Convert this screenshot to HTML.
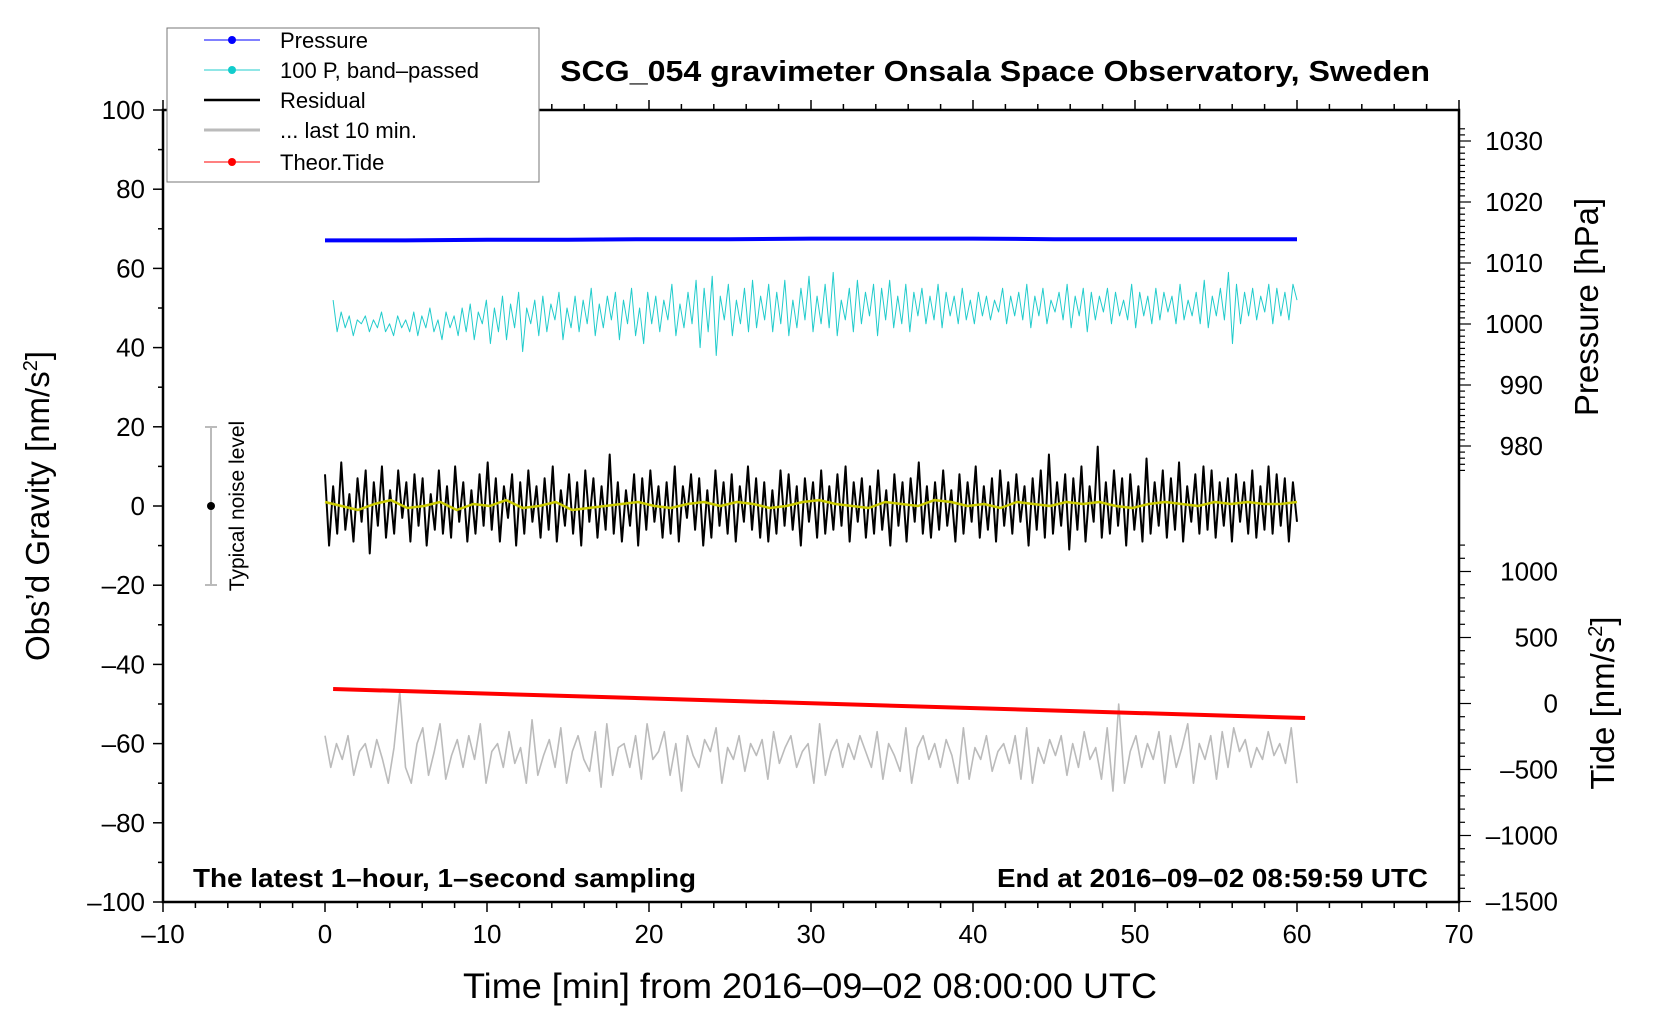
<!DOCTYPE html>
<html><head><meta charset="utf-8">
<style>
html,body{margin:0;padding:0;background:#fff;}
svg{display:block;font-family:"Liberation Sans",sans-serif;}
</style></head>
<body>
<svg id="chart" width="1660" height="1020" viewBox="0 0 1660 1020" xmlns="http://www.w3.org/2000/svg">
<rect width="1660" height="1020" fill="#fff"/>
<g id="plot"></g>
<g id="axes"></g>
<g>
  <rect x="167" y="28" width="372" height="154" fill="#fff" stroke="#777" stroke-width="1"/>
  <line x1="204" y1="40" x2="260" y2="40" stroke="#00f" stroke-width="1"/><circle cx="232" cy="40" r="4" fill="#00f"/>
  <text x="280" y="48" font-size="22">Pressure</text>
  <line x1="204" y1="70" x2="260" y2="70" stroke="#2cc" stroke-width="1"/><circle cx="232" cy="70" r="4" fill="#1cc"/>
  <text x="280" y="78" font-size="22">100 P, band–passed</text>
  <line x1="204" y1="100" x2="260" y2="100" stroke="#000" stroke-width="2.5"/>
  <text x="280" y="108" font-size="22">Residual</text>
  <line x1="204" y1="130" x2="260" y2="130" stroke="#bbb" stroke-width="3"/>
  <text x="280" y="138" font-size="22">... last 10 min.</text>
  <line x1="204" y1="162" x2="260" y2="162" stroke="#f00" stroke-width="1"/><circle cx="232" cy="162" r="4" fill="#f00"/>
  <text x="280" y="170" font-size="22">Theor.Tide</text>
</g>
<text x="560" y="81" font-size="29" font-weight="bold" textLength="870" lengthAdjust="spacingAndGlyphs">SCG_054 gravimeter Onsala Space Observatory, Sweden</text>
<text x="193" y="887" font-size="26" font-weight="bold" textLength="503" lengthAdjust="spacingAndGlyphs">The latest 1–hour, 1–second sampling</text>
<text x="997" y="887" font-size="26" font-weight="bold" textLength="431" lengthAdjust="spacingAndGlyphs">End at 2016–09–02 08:59:59 UTC</text>
<text x="463" y="998" font-size="35" textLength="694" lengthAdjust="spacingAndGlyphs">Time [min] from 2016–09–02 08:00:00 UTC</text>
<text transform="translate(49,506) rotate(-90)" font-size="33" text-anchor="middle">Obs’d Gravity [nm/s<tspan font-size="20" dy="-12">2</tspan><tspan dy="12">]</tspan></text>
<text transform="translate(1598,307) rotate(-90)" font-size="33" text-anchor="middle">Pressure [hPa]</text>
<text transform="translate(1614,703) rotate(-90)" font-size="33" text-anchor="middle">Tide [nm/s<tspan font-size="20" dy="-12">2</tspan><tspan dy="12">]</tspan></text>
<g>
  <line x1="211" y1="427" x2="211" y2="585" stroke="#bbb" stroke-width="2"/>
  <line x1="205" y1="427" x2="217" y2="427" stroke="#bbb" stroke-width="2"/>
  <line x1="205" y1="585" x2="217" y2="585" stroke="#bbb" stroke-width="2"/>
  <circle cx="211" cy="506" r="4" fill="#000"/>
  <text transform="translate(244,506) rotate(-90)" font-size="21" text-anchor="middle">Typical noise level</text>
</g>
</svg>
<script>
const pressureT=[0,5,10,15,20,25,30,35,40,45,50,55,60];
const pressureV=[1013.7,1013.7,1013.8,1013.8,1013.9,1013.9,1014.0,1014.0,1014.0,1013.9,1013.9,1013.9,1013.9];
const residualV=[8,-10,5,-7,11,-6,3,-9,7,-4,9,-12,6,-5,10,-8,4,-7,9,-3,6,-9,8,-5,7,-10,3,-6,9,-7,5,-8,10,-4,6,-9,4,-7,8,-5,
11,-6,7,-9,5,-3,8,-10,6,-7,9,-4,5,-8,7,-6,10,-9,4,-5,8,-7,6,-10,9,-4,7,-8,5,-6,13,-7,6,-9,4,-5,8,-10,7,-6,
9,-4,5,-8,6,-7,10,-9,5,-3,8,-6,7,-10,4,-8,9,-5,6,-7,8,-9,5,-4,10,-6,7,-8,6,-9,4,-7,9,-5,8,-6,5,-10,7,-4,
6,-8,9,-7,5,-6,8,-5,10,-9,6,-4,7,-8,5,-7,9,-6,4,-10,8,-5,6,-9,7,-4,11,-7,5,-8,6,-6,9,-5,4,-9,8,-7,6,-4,
10,-8,5,-6,7,-9,9,-5,6,-7,8,-4,5,-10,7,-6,9,-8,13,-7,6,-5,8,-11,7,-6,10,-9,5,-4,15,-8,6,-7,9,-5,7,-10,8,-6,
5,-9,12,-7,6,-5,9,-8,7,-6,11,-9,5,-4,8,-7,10,-6,9,-8,6,-5,7,-9,8,-4,6,-7,9,-8,5,-6,10,-7,8,-5,7,-9,6,-4];
const bandV=[52,44,49,45,48,43,47,46,48,44,47,45,49,44,46,43,48,45,47,44,49,43,48,45,50,44,47,42,49,45,48,43,50,44,51,42,49,46,52,41,
50,44,53,42,51,45,54,39,50,46,52,43,53,44,51,47,54,42,50,45,53,44,52,46,55,43,51,45,53,47,54,42,52,46,55,43,50,41,54,46,
53,44,52,47,56,43,51,45,54,46,57,40,55,44,58,38,53,47,56,43,52,46,55,44,57,45,53,47,56,44,54,46,57,43,52,45,55,47,58,44,
53,46,56,45,59,43,52,47,55,44,57,46,54,48,56,43,55,47,57,45,53,46,56,44,54,48,55,46,53,47,56,45,54,48,53,46,55,47,52,46,
54,48,53,47,52,49,55,46,53,48,54,47,56,45,53,48,55,46,52,49,54,47,56,45,53,48,55,44,54,47,53,49,55,46,54,48,52,47,56,45,
54,48,53,46,55,47,54,49,53,46,56,47,52,48,54,46,57,45,53,48,55,47,59,41,56,46,54,48,55,47,53,49,56,46,55,48,54,47,56,52];
const smoothV=[1,0,-1,0.5,1.5,-0.5,0,1,-1,0.5,0,1.5,-0.5,0,1,-1,-0.5,0,0.5,1,0,-0.5,0.5,1,0,1,0.5,-0.5,0,1,1.5,0.5,0,-0.5,1,0.5,0,1.5,1,0,0.5,-0.5,1,0.5,0,1,0.5,1,0,-0.5,0.5,1,0.5,0,1,0.5,1,0.5,0.5,1];
const last10V=[-58,-66,-60,-64,-58,-68,-62,-60,-66,-59,-64,-70,-61,-47,-66,-70,-60,-56,-68,-62,-55,-69,-63,-59,-66,-58,-64,-55,-70,-62,-60,-66,-57,-65,-61,-70,-54,-68,-63,-59,
-66,-56,-70,-62,-58,-64,-67,-57,-71,-55,-68,-61,-60,-66,-58,-69,-55,-64,-62,-57,-68,-60,-72,-58,-63,-66,-59,-62,-56,-70,-61,-64,-58,-67,-60,-63,-59,-69,-57,-65,
-61,-58,-66,-62,-60,-70,-55,-68,-62,-59,-66,-60,-64,-58,-62,-66,-57,-69,-60,-63,-67,-56,-70,-61,-58,-64,-60,-66,-59,-63,-70,-56,-69,-61,-64,-58,-67,-62,-60,-65,
-58,-69,-56,-70,-61,-65,-59,-63,-58,-68,-60,-66,-57,-64,-61,-69,-56,-72,-50,-70,-62,-58,-66,-60,-64,-57,-70,-58,-66,-61,-55,-70,-60,-64,-58,-69,-57,-66,-56,-62,
-59,-66,-61,-64,-57,-63,-60,-65,-56,-70];
const tideT=[0.5,60.5];
const tideV=[110,-110];
const xTicks=[-10,0,10,20,30,40,50,60,70];
const yTicks=[-100,-80,-60,-40,-20,0,20,40,60,80,100];
const pTicks=[980,990,1000,1010,1020,1030];
const tTicks=[-1500,-1000,-500,0,500,1000];

const L=163,R=1459,T=110,B=902;
const X=t=>L+(t+10)*(R-L)/80;
const Y=g=>(T+B)/2-g*(B-T)/200;
const YP=p=>324-(p-1000)*6.1;
const YT=v=>703.5-v*0.132;
const NS='http://www.w3.org/2000/svg';
const plot=document.getElementById('plot'),axes=document.getElementById('axes');
function mk(tag,attrs,parent){const e=document.createElementNS(NS,tag);for(const k in attrs)e.setAttribute(k,attrs[k]);parent.appendChild(e);return e;}
function poly(ts,vs,yf,color,w,name){
  const pts=vs.map((v,i)=>X(ts(i))+','+yf(v).toFixed(1)).join(' ');
  const p=mk('polyline',{points:pts,fill:'none',stroke:color,'stroke-width':w,'stroke-linejoin':'round'},plot);
  
  
}
const even=n=>i=>i*60/(n-1);
poly(i=>pressureT[i],pressureV,YP,'#00f',4,'pressure-line');
poly(i=>0.5+i*59.5/(bandV.length-1),bandV,Y,'#2cc',1,'bandpassed-line');
poly(even(residualV.length),residualV,Y,'#000',2,'residual-line');
poly(even(smoothV.length),smoothV,Y,'#c8c800',2.5,'residual-smooth-line');
poly(even(last10V.length),last10V,Y,'#bbb',1.6,'last10-line');
poly(i=>tideT[i],tideV,YT,'#f00',4,'tide-line');

mk('rect',{x:L,y:T,width:R-L,height:B-T,fill:'none',stroke:'#000','stroke-width':2.5},axes);
const tk=(x1,y1,x2,y2,w)=>mk('line',{x1,y1,x2,y2,stroke:'#000','stroke-width':w||1.5},axes);
for(let t=-10;t<=70;t+=2){const x=X(t),maj=t%10===0;tk(x,B,x,B+(maj?10:6));tk(x,T,x,T-(maj?10:6));}
xTicks.forEach(t=>{const e=mk('text',{x:X(t),y:B+41,'font-size':26,'text-anchor':'middle'},axes);e.textContent=String(t).replace('-','–');});
for(let g=-100;g<=100;g+=10){const y=Y(g);tk(L,y,L-(g%20===0?10:5),y);}
yTicks.forEach(g=>{const e=mk('text',{x:L-18,y:Y(g)+9,'font-size':26,'text-anchor':'end'},axes);e.textContent=String(g).replace('-','–');});
for(let p=976;p<=1032;p++){const y=YP(p);if(y<T)continue;tk(R,y,R+(p%10===0?12:6),y,1.2);}
pTicks.forEach(p=>{const e=mk('text',{x:1543,y:YP(p)+9,'font-size':26,'text-anchor':'end'},axes);e.textContent=p;});
for(let v=-1500;v<=1200;v+=100){const y=YT(v);tk(R,y,R+(v%500===0?12:6),y,1.2);}
tTicks.forEach(v=>{const e=mk('text',{x:1558,y:YT(v)+9,'font-size':26,'text-anchor':'end'},axes);e.textContent=String(v).replace('-','–');});
</script>
</body></html>
